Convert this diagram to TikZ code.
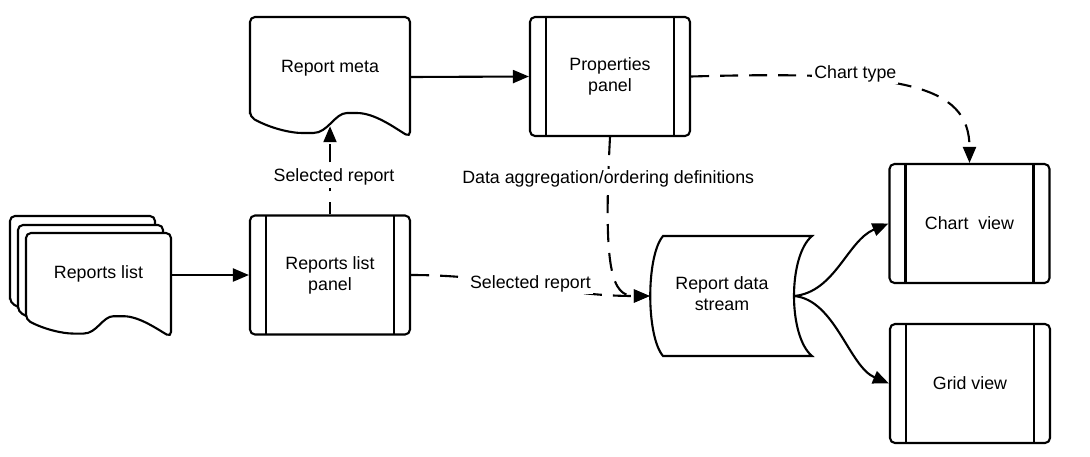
\documentclass[tikz,border=0pt]{standalone}
\usepackage{fontspec}
\setmainfont{Liberation Sans}
\usetikzlibrary{arrows.meta,calc}
\tikzset{
  shapeline/.style={line width=2.1pt, line join=miter},
  lbl/.style={font=\fontsize{17.8}{21}\selectfont, align=center, inner sep=1pt},
  clbl/.style={lbl, fill=white, inner sep=2pt},
  area/.style={draw=none, inner sep=0pt},
  panel/.style={draw, line width=2.1pt, rounded corners=5pt, minimum width=160pt,
    minimum height=119pt, lbl, inner sep=0pt,
    path picture={\draw[line width=2.1pt]
      ([xshift=16pt]path picture bounding box.north west) -- ([xshift=16pt]path picture bounding box.south west)
      ([xshift=-16pt]path picture bounding box.north east) -- ([xshift=-16pt]path picture bounding box.south east);}},
  flow/.style={line width=2.1pt, -{Triangle[length=16pt,width=13pt]}},
  dflow/.style={flow, dash pattern=on 18pt off 11pt}
}
% #1 left x, #2 top y, #3 width, #4 height
\newcommand\DocShape[4]{%
  \draw[shapeline, fill=white, rounded corners=5pt]
    (#1,{#2+0.833*#4}) -- (#1,#2) -- ({#1+#3},#2) -- ({#1+#3},{#2+#4})
    .. controls ({#1+0.906*#3},{#2+0.925*#4}) and ({#1+0.78*#3},{#2+0.8*#4}) .. ({#1+0.6375*#3},{#2+0.8*#4})
    .. controls ({#1+0.53*#3},{#2+0.8*#4}) and ({#1+0.4875*#3},{#2+0.967*#4}) .. ({#1+0.3625*#3},{#2+0.967*#4})
    .. controls ({#1+0.25*#3},{#2+0.967*#4}) and ({#1+0.125*#3},{#2+0.925*#4}) .. cycle;
}
\begin{document}
\begin{tikzpicture}[x=1pt,y=-1pt]
\fill[white] (0,0) rectangle (1090,456);
\useasboundingbox (0,0) rectangle (1090,456);

% Reports list (stack of documents)
\DocShape{10}{216}{145}{104}
\DocShape{18}{225}{145}{104}
\DocShape{26}{233}{145}{104}
\node[area, minimum width=145pt, minimum height=104pt,
  label={[lbl,yshift=11pt]center:Reports list}] (rl) at (98.5,285) {};

% Report meta (document)
\DocShape{250}{17}{160}{120}
\node[area, minimum width=160pt, minimum height=120pt,
  label={[lbl,yshift=9pt]center:Report meta}] (rm) at (330,77) {};

% Panels
\node[panel] (rlp) at (330,275) {Reports list\\panel};
\node[panel] (pp) at (610,76.5) {Properties\\panel};
\node[panel] (cv) at (969.5,223.5) {Chart\ \ view};
\node[panel] (gv) at (970,383.5) {Grid view};

% Report data stream (stored data)
\draw[shapeline] (663,236) -- (812,236) .. controls (788,256) and (788,336) .. (812,356)
  -- (663,356) .. controls (646,336) and (646,256) .. cycle;
\node[area, minimum width=162pt, minimum height=120pt,
  label={[lbl,xshift=-9pt,yshift=2.5pt]center:Report data\\stream}] (ds) at (731,296) {};

% Connectors
\draw[flow] ([yshift=10pt]rl.east) -- (rlp.west);
\draw[flow] (rm.east) -- (pp.west);
\draw[dflow, dash phase=6pt] (rlp.north) -- node[clbl, pos=0.42, xshift=4pt]{Selected report} ([yshift=11pt]rm.south);
\draw[dflow] (rlp.east) .. controls +(94,0) and +(-94,0) .. node[clbl, yshift=1.5pt]{Selected report} (ds.west);
\draw[dflow] (pp.south) .. controls +(-7,134) and +(-38,0) ..
  node[clbl, pos=0.115]{Data aggregation/ordering definitions} (ds.west);
\draw[dflow] (pp.east) .. controls +(210,-6) and +(0,-79) ..
  node[clbl, pos=0.33, yshift=5pt]{Chart type} (cv.north);
\draw[flow] ([xshift=-18pt]ds.east) .. controls +(41,-4) and +(-41,17) .. (cv.west);
\draw[flow] ([xshift=-18pt]ds.east) .. controls +(41,4) and +(-40,-17) .. (gv.west);
\end{tikzpicture}
\end{document}
